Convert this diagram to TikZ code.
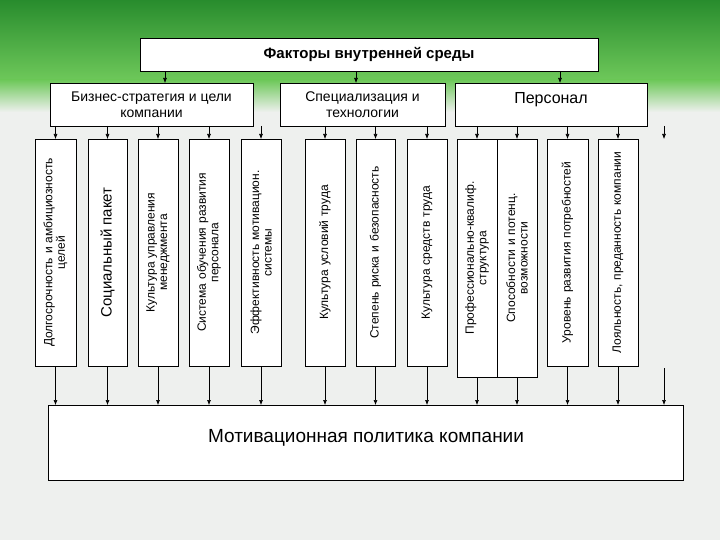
\documentclass[tikz,border=0pt]{standalone}
\usepackage{fontspec}
\setmainfont{Liberation Sans}
\usetikzlibrary{arrows.meta}
\definecolor{gtop}{RGB}{40,140,45}
\definecolor{gmid}{RGB}{110,200,90}
\definecolor{bg}{RGB}{238,240,238}
\begin{document}
\begin{tikzpicture}[x=1pt,y=-1pt,
  box/.style={draw=black,fill=white,line width=0.6pt},
  vtext/.style={rotate=90,align=center,font=\fontsize{12}{12.5}\selectfont,text width=220pt,inner sep=0pt},
  arr/.style={-{Latex[length=5pt,width=4pt]},line width=0.6pt}]
\useasboundingbox (0,0) rectangle (720,540);
\fill[bg] (0,0) rectangle (720,540);
\shade[top color=gtop,bottom color=gmid] (0,0) rectangle (720,80);
\shade[top color=gmid,bottom color=bg] (0,80) rectangle (720,112);
% top
\draw[box] (140,38) rectangle (598,71);
\node[font=\bfseries\fontsize{15}{17}\selectfont] (top) at (369,54.5) {Факторы внутренней среды};
\draw[box] (50,83) rectangle (253,126);
\node[align=center,font=\fontsize{14}{16}\selectfont] (b1) at (151.5,104.5) {Бизнес-стратегия и цели\\компании};
\draw[box] (280,83) rectangle (445,126);
\node[align=center,font=\fontsize{14}{16}\selectfont] (b2) at (362.5,104.5) {Специализация и\\технологии};
\draw[box] (455,83) rectangle (647,126);
\node[font=\fontsize{16}{18}\selectfont] (b3) at (551,100) {Персонал};
\coordinate (t1) at (165,71); \coordinate (t2) at (356,71); \coordinate (t3) at (560,71);
\draw[arr] (t1) -- (165,83); \draw[arr] (t2) -- (356,83); \draw[arr] (t3) -- (560,83);
% columns
\foreach \i/\xa/\xb/\yb/\txt in {
 1/35/76/366/{Долгосрочность и амбициозность\\целей},
 2/88/127/366/{\fontsize{15}{17}\selectfont Социальный пакет},
 3/138/178/366/{Культура управления\\менеджмента},
 4/189/229/366/{Система обучения развития\\персонала},
 5/241/281/366/{Эффективность мотивацион.\\системы},
 6/305/345/366/{Культура условий труда},
 7/356/395/366/{Степень риска и безопасность},
 8/407/447/366/{Культура средств труда},
 9/457/497/377/{Профессионально-квалиф.\\структура},
 10/497/537/377/{Способности и потенц.\\возможности},
 11/547/588/366/{Уровень развития потребностей},
 12/598/638/366/{Лояльность, преданность компании}}{
  \draw[box] (\xa,139) rectangle (\xb,\yb);
  \node[vtext] (c\i) at ({(\xa+\xb)/2},{(139+\yb)/2}) {\txt};
  \coordinate (u\i) at ({(\xa+\xb)/2},126);
  \coordinate (d\i) at ({(\xa+\xb)/2},\yb);
  \draw[arr] (u\i) -- ({(\xa+\xb)/2},139);
  \draw[arr] (d\i) -- ({(\xa+\xb)/2},405);
}
\coordinate (u13) at (664,126);
\draw[arr] (u13) -- (664,139);
\coordinate (d13) at (664,368);
\draw[arr] (d13) -- (664,405);
\draw[box] (48,405) rectangle (683,480);
\node[font=\fontsize{19}{21}\selectfont] (mp) at (366,438) {Мотивационная политика компании};
\end{tikzpicture}
\end{document}
